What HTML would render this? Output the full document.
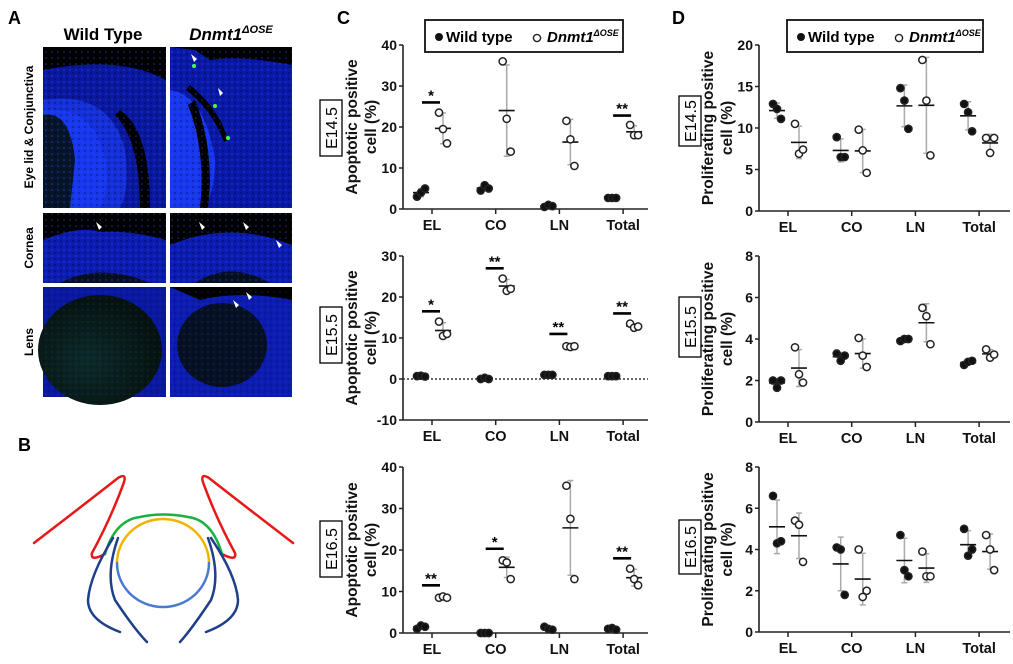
<!DOCTYPE html>
<html><head><meta charset="utf-8">
<style>
html,body{margin:0;padding:0;background:#fff;}
svg{display:block;font-family:"Liberation Sans",Arial,sans-serif;}
</style></head>
<body>
<svg id="fig" width="1013" height="664" viewBox="0 0 1013 664" xmlns="http://www.w3.org/2000/svg">
<defs>
<radialGradient id="lens" cx="0.4" cy="0.6" r="0.6"><stop offset="0" stop-color="#0c2a28"/><stop offset="1" stop-color="#06120f"/></radialGradient>
<pattern id="noise" width="6" height="6" patternUnits="userSpaceOnUse"><rect width="6" height="6" fill="none"/><circle cx="1" cy="1" r="0.9" fill="#000" opacity="0.45"/><circle cx="4" cy="4" r="0.8" fill="#2a55ff" opacity="0.6"/></pattern>
</defs>
<g>
<text x="8" y="24" font-size="18" font-weight="bold">A</text>
<text x="103" y="40" font-size="17" font-weight="bold" text-anchor="middle">Wild Type</text>
<text x="231" y="40" font-size="17" font-weight="bold" font-style="italic" text-anchor="middle">Dnmt1<tspan font-size="11" dy="-7">ΔOSE</tspan></text>
<text transform="translate(33,127) rotate(-90)" font-size="12" font-weight="bold" text-anchor="middle">Eye lid &amp; Conjunctiva</text>
<text transform="translate(33,248) rotate(-90)" font-size="12" font-weight="bold" text-anchor="middle">Cornea</text>
<text transform="translate(33,342) rotate(-90)" font-size="12" font-weight="bold" text-anchor="middle">Lens</text>
<g>
<rect x="43" y="47" width="123" height="161" fill="#0a18a0"/>
<path d="M43,47 L166,47 L166,80 Q120,55 43,70 Z" fill="#000"/>
<path d="M43,100 Q110,90 125,150 Q130,190 120,208 L43,208 Z" fill="#1530d8"/>
<path d="M43,110 Q95,105 105,160 Q110,190 100,208 L43,208 Z" fill="#1838f0"/>
<path d="M43,115 Q70,110 75,160 L70,208 L43,208 Z" fill="#07152a"/>
<path d="M120,110 Q150,130 150,208 L140,208 Q140,140 115,115 Z" fill="#000"/>
<rect x="43" y="47" width="123" height="161" fill="url(#noise)"/>
</g>
<g>
<rect x="170" y="47" width="122" height="161" fill="#0a18a8"/>
<path d="M170,47 L292,47 L292,65 Q240,55 210,60 L195,50 Z" fill="#000"/>
<path d="M170,90 Q205,95 215,160 Q215,190 205,208 L170,208 Z" fill="#1838f0"/>
<path d="M190,85 Q220,110 228,140 L224,142 Q212,110 186,90 Z" fill="#000"/>
<path d="M195,100 Q215,150 208,208 L200,208 Q206,150 188,105 Z" fill="#000"/>
<rect x="170" y="47" width="122" height="161" fill="url(#noise)"/>
<path d="M191,54 l3,8 l3,-3 z M218,88 l2,8 l3,-3 z" fill="#fff"/>
<circle cx="194" cy="66" r="2" fill="#4f4"/><circle cx="215" cy="106" r="2" fill="#4f4"/><circle cx="228" cy="138" r="2" fill="#4f4"/>
</g>
<g>
<rect x="43" y="213" width="123" height="70" fill="#000"/>
<path d="M43,240 Q80,225 100,232 Q130,230 166,240 L166,283 L43,283 Z" fill="#0c1cb0"/>
<path d="M60,283 Q100,262 150,283 Z" fill="#061020"/>
<rect x="43" y="213" width="123" height="70" fill="url(#noise)"/>
<path d="M96,222 l3,8 l3,-3 z" fill="#fff"/>
</g>
<g>
<rect x="170" y="213" width="122" height="70" fill="#000"/>
<path d="M170,245 Q230,220 292,245 L292,283 L170,283 Z" fill="#0c1cb0"/>
<path d="M195,283 Q230,260 270,283 Z" fill="#061020"/>
<rect x="170" y="213" width="122" height="70" fill="url(#noise)"/>
<path d="M199,222 l3,8 l3,-3 z M243,222 l3,8 l3,-3 z M276,240 l3,8 l3,-3 z" fill="#fff"/>
</g>
<g>
<rect x="43" y="287" width="123" height="110" fill="#0a18a0"/>
<ellipse cx="100" cy="350" rx="62" ry="55" fill="url(#lens)"/>
<rect x="43" y="287" width="123" height="110" fill="url(#noise)" opacity="0.5"/>
</g>
<g>
<rect x="170" y="287" width="122" height="110" fill="#0c1cb0"/>
<path d="M170,287 L292,287 L292,300 Q240,290 200,300 Z" fill="#000"/>
<ellipse cx="222" cy="345" rx="45" ry="42" fill="#061022"/>
<rect x="170" y="287" width="122" height="110" fill="url(#noise)" opacity="0.6"/>
<path d="M233,300 l3,8 l3,-3 z M246,292 l3,8 l3,-3 z" fill="#fff"/>
</g>
</g>
<g fill="none" stroke-linecap="round">
<text x="18" y="451" font-size="18" font-weight="bold" fill="#000" stroke="none">B</text>
<path d="M34,543 Q90,500 118,478 Q128,472 123,485 Q110,520 92,553 Q90,562 105,554" stroke="#e81818" stroke-width="2.5"/>
<path d="M293,543 Q237,500 209,478 Q199,472 204,485 Q217,520 235,553 Q237,562 222,554" stroke="#e81818" stroke-width="2.5"/>
<path d="M105,554 Q115,520 140,517 Q163,512 188,517 Q212,520 222,554" stroke="#1bb040" stroke-width="2.5"/>
<path d="M117,563 A46,44 0 0 1 209,563" stroke="#f0b400" stroke-width="2.5"/>
<path d="M117,563 A46,44 0 0 0 209,563" stroke="#4a7ad0" stroke-width="2.5"/>
<path d="M113,538 Q90,575 88,600 Q88,620 120,632" stroke="#1f3f8a" stroke-width="2.5"/>
<path d="M118,538 Q105,575 115,600 Q135,630 147,642" stroke="#1f3f8a" stroke-width="2.5"/>
<path d="M211,538 Q236,575 238,600 Q238,620 206,632" stroke="#1f3f8a" stroke-width="2.5"/>
<path d="M208,538 Q221,575 211,600 Q191,630 180,642" stroke="#1f3f8a" stroke-width="2.5"/>
</g>
<text x="337" y="24" font-size="18" font-weight="bold">C</text>
<text x="672" y="24" font-size="18" font-weight="bold">D</text>
<g id="charts"></g>
</svg>
<script>
const categories = ["EL", "CO", "LN", "Total"];
const stages = ["E14.5", "E15.5", "E16.5"];
const cE145Wt = [[3, 4, 5], [4.5, 5.8, 5], [0.5, 1, 0.7], [2.7, 2.7, 2.7]];
const cE145Ko = [[23.5, 19.5, 16], [36, 22, 14], [21.5, 17, 10.5], [20.5, 18, 18]];
const cE155Wt = [[0.7, 0.8, 0.6], [0, 0.3, 0], [1, 1, 1], [0.7, 0.7, 0.7]];
const cE155Ko = [[14, 10.5, 11], [24.5, 21.5, 22], [8, 7.8, 8], [13.5, 12.5, 12.8]];
const cE165Wt = [[1, 1.8, 1.5], [0, 0, 0], [1.5, 1, 0.8], [1, 1.2, 0.8]];
const cE165Ko = [[8.5, 8.8, 8.5], [17.5, 17, 13], [35.5, 27.5, 13], [15.5, 13, 11.5]];
const cE145Sig = [[0, 26, "*"], [3, 22.8, "**"]];
const cE155Sig = [[0, 16.5, "*"], [1, 27, "**"], [2, 11, "**"], [3, 16, "**"]];
const cE165Sig = [[0, 11.5, "**"], [1, 20.3, "*"], [3, 18, "**"]];
const cE145Ticks = [0, 10, 20, 30, 40];
const cE155Ticks = [-10, 0, 10, 20, 30];
const cE165Ticks = [0, 10, 20, 30, 40];
const dE145Wt = [[12.9, 12.3, 11.1], [8.9, 6.5, 6.5], [14.8, 13.3, 9.9], [12.9, 11.9, 9.6]];
const dE145Ko = [[10.5, 6.9, 7.4], [9.8, 7.3, 4.6], [18.2, 13.3, 6.7], [8.8, 7, 8.8]];
const dE155Wt = [[2, 1.65, 2], [3.3, 2.95, 3.2], [3.9, 4, 4], [2.75, 2.9, 2.95]];
const dE155Ko = [[3.6, 2.3, 1.9], [4.05, 3.2, 2.65], [5.5, 5.1, 3.75], [3.5, 3.1, 3.25]];
const dE165Wt = [[6.6, 4.3, 4.4], [4.1, 4, 1.8], [4.7, 3, 2.7], [5, 3.7, 4]];
const dE165Ko = [[5.4, 5.2, 3.4], [4, 1.7, 2], [3.9, 2.7, 2.7], [4.7, 4, 3]];
const dE145Ticks = [0, 5, 10, 15, 20];
const dE155Ticks = [0, 2, 4, 6, 8];
const dE165Ticks = [0, 2, 4, 6, 8];

const NS = "http://www.w3.org/2000/svg";
const root = document.getElementById("charts");
function mk(tag, attrs, parent) {
  const e = document.createElementNS(NS, tag);
  for (const k in attrs) e.setAttribute(k, attrs[k]);
  (parent || root).appendChild(e);
  return e;
}
const jitter = [-4, 0, 4];
function meanOf(a) { return a.reduce((s, v) => s + v, 0) / a.length; }
function sdOf(a) { const m = meanOf(a); return Math.sqrt(a.reduce((s, v) => s + (v - m) * (v - m), 0) / (a.length - 1)); }

function drawChart(cfg) {
  const g = mk("g", {});
  
  
  const min = cfg.ticks[0], max = cfg.ticks[cfg.ticks.length - 1];
  const y = v => cfg.yBot - (v - min) / (max - min) * (cfg.yBot - cfg.yTop);
  const x = i => cfg.axisX + 29 + i * 63.7;
  const bx = mk("rect", { x: cfg.boxX, y: cfg.boxY, width: 22, height: cfg.boxH, fill: "#fff", stroke: "#000", "stroke-width": 1.3 }, g);
  
  
  const bt = mk("text", { transform: `translate(${cfg.boxX + 17},${cfg.boxY + cfg.boxH / 2}) rotate(-90)`, "font-size": 16, "text-anchor": "middle" }, g);
  bt.textContent = cfg.stage;
  
  
  const midY = (cfg.yTop + cfg.yBot) / 2;
  const t1 = mk("text", { transform: `translate(${cfg.titleX},${midY}) rotate(-90)`, "font-size": 15.5, "font-weight": "bold", "text-anchor": "middle", fill: "#111" }, g);
  t1.textContent = cfg.title1;
  
  
  const t2 = mk("text", { transform: `translate(${cfg.titleX + 19},${midY}) rotate(-90)`, "font-size": 15.5, "font-weight": "bold", "text-anchor": "middle", fill: "#111" }, g);
  t2.textContent = "cell (%)";
  
  
  const ya = mk("line", { x1: cfg.axisX, y1: cfg.yTop, x2: cfg.axisX, y2: cfg.yBot, stroke: "#222", "stroke-width": 1.6 }, g);
  
  
  const xa = mk("line", { x1: cfg.axisX, y1: cfg.yBot, x2: cfg.xEnd, y2: cfg.yBot, stroke: "#222", "stroke-width": 1.6 }, g);
  
  
  cfg.ticks.forEach(t => {
    const tl = mk("line", { x1: cfg.axisX - 4, y1: y(t), x2: cfg.axisX, y2: y(t), stroke: "#222", "stroke-width": 1.5 }, g);
    
    
    const tx = mk("text", { x: cfg.axisX - 6, y: y(t) + 5, "font-size": 14, "font-weight": "bold", "text-anchor": "end", fill: "#111" }, g);
    tx.textContent = t;
    
    
  });
  if (min < 0) {
    const zl = mk("line", { x1: cfg.axisX, y1: y(0), x2: cfg.xEnd, y2: y(0), stroke: "#333", "stroke-width": 1.5, "stroke-dasharray": "2,2" }, g);
    
    
  }
  categories.forEach((c, i) => {
    const tk = mk("line", { x1: x(i), y1: cfg.yBot, x2: x(i), y2: cfg.yBot + 5, stroke: "#222", "stroke-width": 1.5 }, g);
    
    
    const tx = mk("text", { x: x(i), y: cfg.yBot + 21, "font-size": 14.5, "font-weight": "bold", "text-anchor": "middle", fill: "#111" }, g);
    tx.textContent = c;
    
    
    [[cfg.wt[i], -11, true], [cfg.ko[i], 11, false]].forEach(([vals, off, filled]) => {
      const cx = x(i) + off;
      const m = meanOf(vals), s = sdOf(vals);
      const eb = mk("line", { x1: cx, y1: y(m - s), x2: cx, y2: y(m + s), stroke: "#aaa", "stroke-width": 1.5 }, g);
      
      
      [m - s, m + s].forEach(v => {
        const cp = mk("line", { x1: cx - 3, y1: y(v), x2: cx + 3, y2: y(v), stroke: "#aaa", "stroke-width": 1.5 }, g);
        
        
      });
      const ml = mk("line", { x1: cx - 8, y1: y(m), x2: cx + 8, y2: y(m), stroke: "#111", "stroke-width": 1.6 }, g);
      
      
      vals.forEach((v, k) => {
        const p = mk("circle", { cx: cx + jitter[k], cy: y(v), r: 3.6, fill: filled ? "#111" : "#fff", stroke: "#222", "stroke-width": 1.5 }, g);
        
        
      });
    });
  });
  (cfg.sig || []).forEach(([i, v, star]) => {
    const sb = mk("line", { x1: x(i) - 10, y1: y(v), x2: x(i) + 8, y2: y(v), stroke: "#000", "stroke-width": 2.6 }, g);
    
    
    const st = mk("text", { x: x(i) - 1, y: y(v) - 2, "font-size": 15, "font-weight": "bold", "text-anchor": "middle" }, g);
    st.textContent = star;
    
    
  });
}
const cBase = { axisX: 403, xEnd: 648, boxX: 320, titleX: 357, title1: "Apoptotic  positive" };
const dBase = { axisX: 759, xEnd: 1010, boxX: 679, titleX: 713, title1: "Proliferating positive" };
drawChart(Object.assign({}, cBase, { name: "chart-c-e14-5", stage: stages[0], yTop: 45, yBot: 209, ticks: cE145Ticks, wt: cE145Wt, ko: cE145Ko, sig: cE145Sig, boxY: 100, boxH: 56 }));
drawChart(Object.assign({}, cBase, { name: "chart-c-e15-5", stage: stages[1], yTop: 256, yBot: 420, ticks: cE155Ticks, wt: cE155Wt, ko: cE155Ko, sig: cE155Sig, boxY: 307, boxH: 56 }));
drawChart(Object.assign({}, cBase, { name: "chart-c-e16-5", stage: stages[2], yTop: 467, yBot: 633, ticks: cE165Ticks, wt: cE165Wt, ko: cE165Ko, sig: cE165Sig, boxY: 521, boxH: 56 }));
drawChart(Object.assign({}, dBase, { name: "chart-d-e14-5", stage: stages[0], yTop: 45, yBot: 211, ticks: dE145Ticks, wt: dE145Wt, ko: dE145Ko, boxY: 96, boxH: 50 }));
drawChart(Object.assign({}, dBase, { name: "chart-d-e15-5", stage: stages[1], yTop: 256, yBot: 422, ticks: dE155Ticks, wt: dE155Wt, ko: dE155Ko, boxY: 297, boxH: 60 }));
drawChart(Object.assign({}, dBase, { name: "chart-d-e16-5", stage: stages[2], yTop: 467, yBot: 632, ticks: dE165Ticks, wt: dE165Wt, ko: dE165Ko, boxY: 520, boxH: 54 }));

[[425, 198, "legend-c"], [787, 196, "legend-d"]].forEach(([lx, w, nm]) => {
  const lg = mk("g", {});
  
  
  mk("rect", { x: lx, y: 20, width: w, height: 32, fill: "#fff", stroke: "#111", "stroke-width": 1.8 }, lg);
  const c1 = mk("circle", { cx: lx + 14, cy: 37, r: 4, fill: "#111" }, lg);
  
  
  const l1 = mk("text", { x: lx + 21, y: 42, "font-size": 15, "font-weight": "bold" }, lg);
  l1.textContent = "Wild type";
  
  
  const c2 = mk("circle", { cx: lx + 112, cy: 38, r: 3.6, fill: "#fff", stroke: "#222", "stroke-width": 1.4 }, lg);
  
  
  const l2 = mk("text", { x: lx + 122, y: 42, "font-size": 15, "font-weight": "bold", "font-style": "italic" }, lg);
  l2.innerHTML = 'Dnmt1<tspan font-size="9" dy="-6">ΔOSE</tspan>';
  
  
});
</script>
</body></html>
